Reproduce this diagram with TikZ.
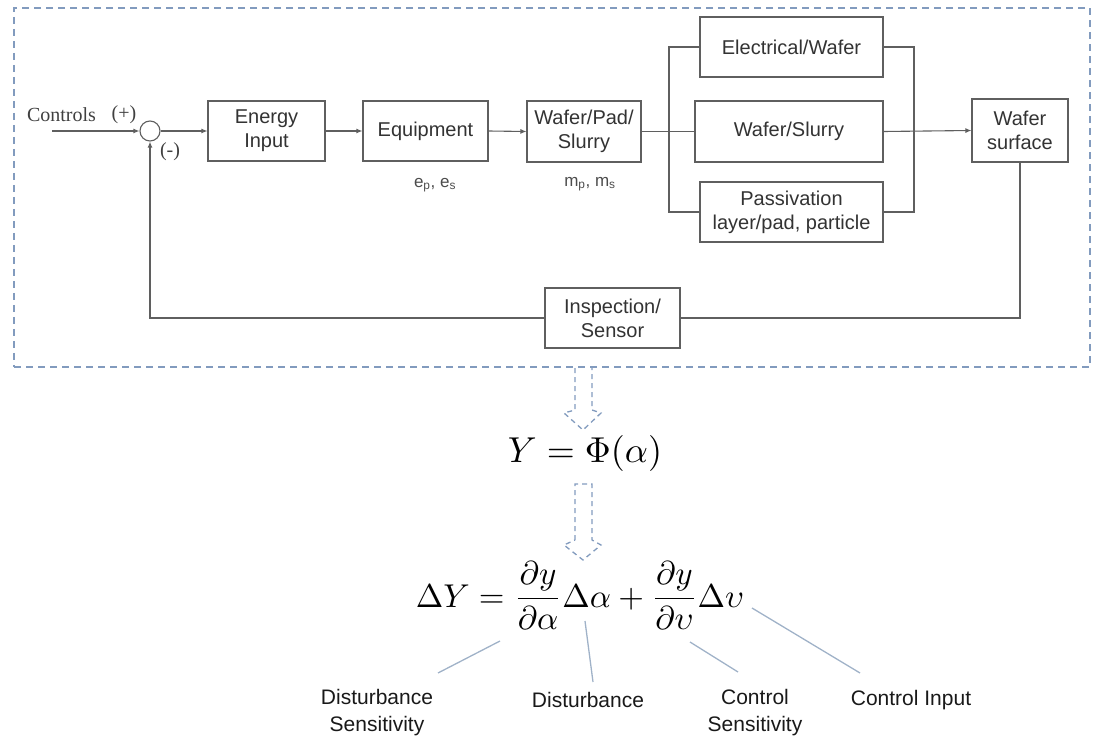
\documentclass[tikz,border=0pt]{standalone}
\usepackage{fontspec}
\setmainfont{Liberation Sans}
\newfontfamily\ctrlserif{Liberation Serif}
\usetikzlibrary{arrows.meta,calc}
\definecolor{frameblue}{RGB}{130,155,190}
\definecolor{linegray}{RGB}{95,95,95}
\definecolor{leadblue}{RGB}{160,178,200}
\begin{document}
\begin{tikzpicture}[x=1pt,y=-1pt,
  blk/.style={draw=linegray, line width=1.1pt, fill=white, align=center, inner sep=0pt,
    font=\fontsize{20}{24}\selectfont, text=black!80},
  conn/.style={draw=linegray, line width=1.1pt},
  arr/.style={conn, -{Latex[length=6pt,width=5pt]}},
  lbl/.style={font=\fontsize{21}{27}\selectfont, align=center, text=black!90},
  small/.style={font=\fontsize{17}{20}\selectfont, text=black!70},
  serif/.style={font=\ctrlserif\fontsize{20}{22}\selectfont, text=black!75},
  lead/.style={draw=leadblue, line width=1.3pt},
  frm/.style={draw=frameblue, line width=1.6pt, dash pattern=on 7pt off 5pt},
  hollow/.style={draw=frameblue, line width=1.3pt, dash pattern=on 5pt off 4pt},
]
\useasboundingbox (0,0) rectangle (1096,738);

% frame
\node[frm, minimum width=1076pt, minimum height=359pt, inner sep=0pt] (frame) at (552,187.5) {};

% blocks
\node[circle, draw=linegray, line width=1.1pt, minimum size=20pt, inner sep=0pt] (sum) at (150,131) {};
\node[blk, minimum width=117pt, minimum height=60pt] (energy) at (266.5,131) {Energy\\Input};
\node[blk, minimum width=125pt, minimum height=60pt] (equip) at (425.5,131) {Equipment};
\node[blk, minimum width=114pt, minimum height=61pt] (wps) at (584,131.5) {Wafer/Pad/\\Slurry};
\node[blk, minimum width=183pt, minimum height=60pt] (elec) at (791.5,47) {Electrical/Wafer};
\node[blk, minimum width=188pt, minimum height=61pt] (ws) at (789,131.5) {Wafer/Slurry};
\node[blk, minimum width=183pt, minimum height=60pt] (pass) at (791.5,212) {Passivation\\layer/pad, particle};
\node[blk, minimum width=96pt, minimum height=63pt] (surf) at (1020,130.5) {Wafer\\surface};
\node[blk, minimum width=135pt, minimum height=60pt] (insp) at (612.5,318) {Inspection/\\Sensor};

% labels
\node[serif] (ctrl) at (61.5,115) {Controls};
\node[serif] (plus) at (124,115) {(+)};
\node[serif] (minus) at (170,152) {(-)};
\node[small] (elab) at (435,185) {e\textsubscript{p}, e\textsubscript{s}};
\node[small] (mlab) at (590,184) {m\textsubscript{p}, m\textsubscript{s}};

% coordinates
\coordinate (cin) at (52,131);
\coordinate (bl1) at (669,47);
\coordinate (bl3) at (669,212);
\coordinate (br1) at (914,47);
\coordinate (br3) at (914,212);
\coordinate (fb1) at (1020,318);
\coordinate (fb2) at (150,318);

% connectors
\draw[arr] (cin) -- (sum.west);
\draw[arr] (sum.east) -- (energy.west);
\draw[arr] (energy.east) -- (equip.west);
\draw[arr] (equip.east) -- (wps.west);
\draw[conn] (wps.east) -- (ws.west);
\draw[conn] (elec.west) -- (bl1) -- (bl3) -- (pass.west);
\draw[conn] (elec.east) -- (br1) -- (br3) -- (pass.east);
\draw[arr] (ws.east) -- (surf.west);
\draw[conn] (surf.south) -- (fb1) -- (insp.east);
\draw[arr] (insp.west) -- (fb2) -- (sum.south);

% equations
\node[scale=3.6, anchor=base] (eq1) at (585,462) {$Y=\Phi(\alpha)$};
\node[scale=3.3, anchor=base] (eq2) at (580,607)
  {$\Delta Y=\displaystyle\frac{\partial y}{\partial\alpha}\Delta\alpha+\frac{\partial y}{\partial\upsilon}\Delta\upsilon$};

% hollow dashed arrows
\draw[hollow] (575,368) -- (575,410) -- (564,413) -- (583,430) -- (601,413) -- (592,410) -- (592,368);
\draw[hollow] (575,540) -- (575,484) -- (592,484) -- (592,540) -- (601,545) -- (583,560) -- (564,545) -- cycle;

% bottom labels
\node[lbl] (ds) at (377,713) {Disturbance\\Sensitivity};
\node[lbl] (dist) at (588,700) {Disturbance};
\node[lbl] (cs) at (755,713) {Control\\Sensitivity};
\node[lbl] (ci) at (911,700) {Control Input};

\coordinate (l1a) at (500,641); \coordinate (l1b) at (438,673);
\coordinate (l2a) at (585,621); \coordinate (l2b) at (593,682);
\coordinate (l3a) at (690,642); \coordinate (l3b) at (738,672);
\coordinate (l4a) at (752,608); \coordinate (l4b) at (860,673);
\draw[lead] (l1a) -- (l1b);
\draw[lead] (l2a) -- (l2b);
\draw[lead] (l3a) -- (l3b);
\draw[lead] (l4a) -- (l4b);
\end{tikzpicture}
\end{document}
